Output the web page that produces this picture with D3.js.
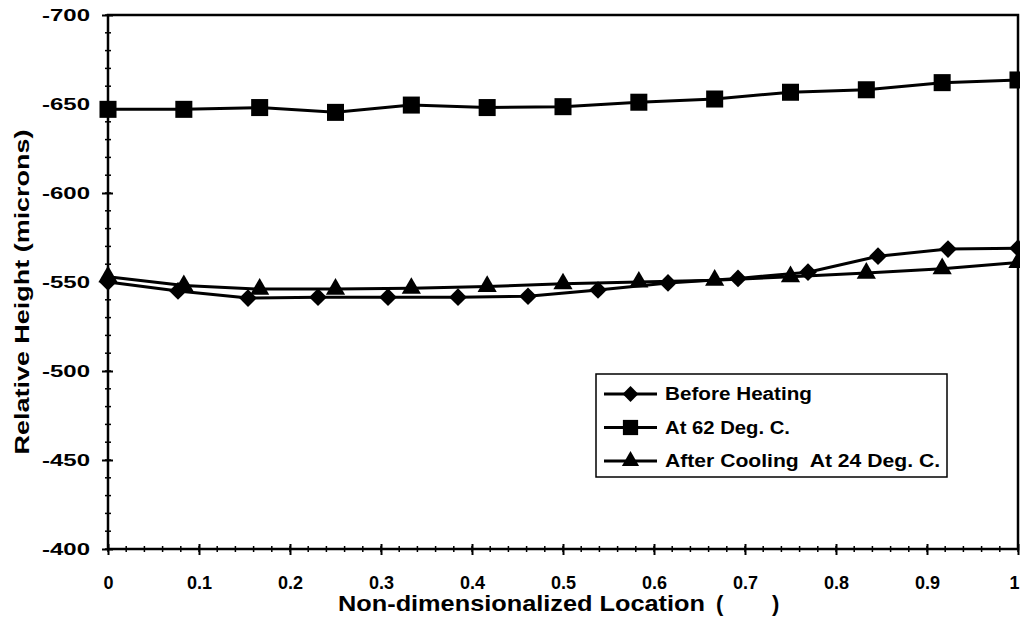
<!DOCTYPE html>
<html>
<head>
<meta charset="utf-8">
<script src="https://cdn.jsdelivr.net/npm/d3@7"></script>
<style>
  body { margin: 0; background: #fff; }
  svg { display: block; font-family: "Liberation Sans", Arial, sans-serif; font-weight: bold; }
</style>
</head>
<body>
<svg id="chart" width="1020" height="632"></svg>
<script>
// data
var seriesNames = ["Before Heating", "At 62 Deg. C.", "After Cooling  At 24 Deg. C."];
var beforeX = [0, 1/13, 2/13, 3/13, 4/13, 5/13, 6/13, 7/13, 8/13, 9/13, 10/13, 11/13, 12/13, 1];
var beforeY = [-550, -545, -541, -541.5, -541.5, -541.5, -542, -545.5, -549.5, -552, -555.5, -564.5, -568.5, -569];
var hotX = [0, 1/12, 2/12, 3/12, 4/12, 5/12, 6/12, 7/12, 8/12, 9/12, 10/12, 11/12, 1];
var hotY = [-647, -647, -648, -645.3, -649.4, -648, -648.5, -651, -652.8, -656.6, -658, -662, -663.5];
var coolX = hotX;
var coolY = [-553, -548, -546, -546, -546.5, -547.5, -549, -550, -551, -553, -555, -557.5, -561];
var xTicks = [0, 0.1, 0.2, 0.3, 0.4, 0.5, 0.6, 0.7, 0.8, 0.9, 1];
var yTicks = [-400, -450, -500, -550, -600, -650, -700];

var svg = d3.select("#chart");
var pLeft = 108, pRight = 1018, pTop = 15, pBottom = 549;

var x = d3.scaleLinear().domain([0, 1]).range([pLeft, pRight]);
var y = d3.scaleLinear().domain([-400, -700]).range([pBottom, pTop]);

// plot frame
svg.append("rect")
    .attr("x", pLeft).attr("y", pTop)
    .attr("width", pRight - pLeft).attr("height", pBottom - pTop)
    .attr("fill", "none").attr("stroke", "#000").attr("stroke-width", 2.5);

// minor ticks
var yMinor = d3.range(-700, -399, 10);
var xMinor = d3.range(0, 1.0001, 0.02);
svg.append("g").selectAll("line").data(yMinor).join("line")
    .attr("x1", pLeft - 3).attr("x2", pLeft + 3)
    .attr("y1", d => y(d)).attr("y2", d => y(d))
    .attr("stroke", "#000").attr("stroke-width", 1.5);
svg.append("g").selectAll("line").data(xMinor).join("line")
    .attr("x1", d => x(d)).attr("x2", d => x(d))
    .attr("y1", pBottom - 3).attr("y2", pBottom + 3)
    .attr("stroke", "#000").attr("stroke-width", 1.5);

// major axes
var yAxis = d3.axisLeft(y).tickValues(yTicks).tickSize(6).tickPadding(12).tickFormat(d => String(d));
var xAxis = d3.axisBottom(x).tickValues(xTicks).tickSize(6).tickPadding(21).tickFormat(d => String(d));

var gy = svg.append("g").attr("transform", "translate(" + pLeft + ",0)").call(yAxis);
var gx = svg.append("g").attr("transform", "translate(0," + pBottom + ")").call(xAxis);
[gy, gx].forEach(function(g) {
    g.select(".domain").remove();
    g.selectAll(".tick line").attr("stroke", "#000").attr("stroke-width", 2);
    g.selectAll(".tick text").attr("fill", "#000")
        .style("font-size", "18px").style("font-weight", "bold")
        .style("font-family", "'Liberation Sans', Arial, sans-serif");
});
gy.selectAll(".tick line").attr("x1", 5);
gy.selectAll(".tick text").style("font-size", "17px")
    .attr("textLength", 48).attr("lengthAdjust", "spacingAndGlyphs");
gx.selectAll(".tick line").attr("y1", -5);
gx.selectAll(".tick text").filter(d => d === 1).attr("text-anchor", "end").attr("x", 1);

// axis titles
svg.append("text")
    .attr("transform", "translate(29,292) rotate(-90)")
    .attr("text-anchor", "middle")
    .attr("textLength", 325).attr("lengthAdjust", "spacingAndGlyphs")
    .style("font-size", "21px")
    .text("Relative Height  (microns)");
svg.append("text")
    .attr("x", 338).attr("y", 611)
    .attr("textLength", 367).attr("lengthAdjust", "spacingAndGlyphs")
    .style("font-size", "22px")
    .text("Non-dimensionalized Location");
svg.append("text")
    .attr("x", 716).attr("y", 611)
    .style("font-size", "22px")
    .text("(");
svg.append("text")
    .attr("x", 772).attr("y", 611)
    .style("font-size", "22px")
    .text(")");

// marker shapes
var shapes = [d3.symbolDiamond2, d3.symbolSquare, d3.symbolTriangle];
var sizes = [200, 290, 160];

function drawSeries(xs, ys, i) {
    var pts = xs.map((d, k) => [d, ys[k]]);
    var line = d3.line().x(d => x(d[0])).y(d => y(d[1]));
    svg.append("path").datum(pts)
        .attr("d", line)
        .attr("fill", "none").attr("stroke", "#000").attr("stroke-width", 3);
    svg.append("g").selectAll("path").data(pts).join("path")
        .attr("transform", d => "translate(" + x(d[0]) + "," + y(d[1]) + ")")
        .attr("d", d3.symbol().type(shapes[i]).size(sizes[i]))
        .attr("fill", "#000");
}
drawSeries(beforeX, beforeY, 0);
drawSeries(hotX, hotY, 1);
drawSeries(coolX, coolY, 2);

// legend
var legendLen = [147, 125, 275];
var lg = svg.append("g").attr("transform", "translate(596,374)");
lg.append("rect").attr("width", 351).attr("height", 103)
    .attr("fill", "#fff").attr("stroke", "#000").attr("stroke-width", 1.5);
seriesNames.forEach(function(name, i) {
    var cy = 20 + i * 33.5;
    lg.append("line").attr("x1", 8).attr("x2", 61).attr("y1", cy).attr("y2", cy)
        .attr("stroke", "#000").attr("stroke-width", 3);
    lg.append("path").attr("transform", "translate(34.5," + cy + ")")
        .attr("d", d3.symbol().type(shapes[i]).size(sizes[i] * 0.8))
        .attr("fill", "#000");
    lg.append("text").attr("x", 69).attr("y", cy + 6)
        .attr("xml:space", "preserve")
        .attr("textLength", legendLen[i]).attr("lengthAdjust", "spacingAndGlyphs")
        .style("font-size", "18px")
        .text(name);
});
</script>
</body>
</html>
